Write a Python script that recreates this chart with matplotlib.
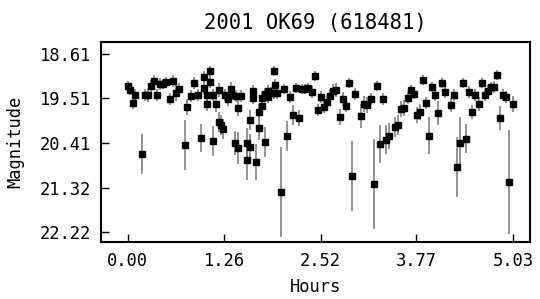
import numpy as np
import matplotlib
matplotlib.use('Agg')
import matplotlib.pyplot as plt

# Lightcurve of 2001 OK69
hours = [0.00, 0.03, 0.07, 0.10, 0.18, 0.22, 0.26, 0.30, 0.34, 0.38,
         0.42, 0.46, 0.50, 0.55, 0.59, 0.63, 0.67, 0.75, 0.77, 0.82,
         0.86, 0.92, 0.95, 0.99, 0.99, 1.03, 1.03, 1.07, 1.07, 1.11,
         1.11, 1.15, 1.19, 1.19, 1.22, 1.24, 1.27, 1.31, 1.35, 1.35,
         1.40, 1.41, 1.44, 1.44, 1.48, 1.56, 1.56, 1.60, 1.60, 1.63,
         1.63, 1.67, 1.71, 1.71, 1.75, 1.75, 1.79, 1.79, 1.83, 1.83,
         1.87, 1.91, 1.92, 1.91, 1.95, 2.00, 2.04, 2.08, 2.12, 2.16,
         2.20, 2.24, 2.27, 2.31, 2.35, 2.41, 2.44, 2.48, 2.52, 2.56,
         2.60, 2.64, 2.68, 2.72, 2.77, 2.81, 2.85, 2.89, 2.93, 2.97,
         3.05, 3.09, 3.12, 3.18, 3.22, 3.25, 3.29, 3.33, 3.37, 3.41,
         3.49, 3.53, 3.57, 3.61, 3.66, 3.70, 3.74, 3.78, 3.82, 3.86,
         3.90, 3.93, 3.97, 4.01, 4.05, 4.10, 4.14, 4.22, 4.26, 4.30,
         4.34, 4.38, 4.42, 4.46, 4.50, 4.54, 4.59, 4.63, 4.67, 4.71,
         4.75, 4.78, 4.82, 4.86, 4.90, 4.94, 4.98, 5.03]
mag = [19.26, 19.34, 19.60, 19.44, 20.64, 19.44, 19.44, 19.26, 19.16, 19.44,
       19.22, 19.22, 19.18, 19.52, 19.16, 19.40, 19.32, 20.46, 19.69, 19.46,
       19.20, 19.44, 20.31, 19.08, 19.30, 19.44, 19.62, 18.96, 19.18, 19.44,
       20.38, 19.62, 19.34, 19.99, 20.05, 20.13, 19.44, 19.52, 19.32, 19.44,
       20.42, 19.46, 19.71, 20.52, 19.46, 20.42, 20.76, 19.95, 20.50, 19.36,
       19.50, 20.80, 19.79, 20.11, 19.50, 19.66, 20.40, 19.42, 19.36, 19.48,
       19.40, 18.96, 19.24, 19.40, 19.40, 21.41, 19.32, 20.27, 19.48, 19.85,
       19.30, 19.91, 19.32, 19.32, 19.30, 19.38, 19.06, 19.75, 19.48, 19.69,
       19.58, 19.46, 19.36, 19.34, 19.89, 19.52, 19.66, 19.20, 21.08, 19.42,
       19.87, 19.62, 19.65, 19.52, 21.25, 19.26, 20.44, 19.52, 20.35, 20.27,
       20.09, 20.05, 19.73, 19.71, 19.50, 19.34, 19.42, 19.85, 19.79, 19.14,
       19.60, 20.27, 19.28, 19.44, 19.81, 19.20, 19.38, 19.65, 19.44, 20.90,
       20.42, 19.20, 20.33, 19.38, 19.79, 19.44, 19.62, 19.20, 19.44, 19.36,
       19.28, 19.28, 19.04, 19.91, 19.44, 19.48, 21.21, 19.62]
err = [0.10, 0.10, 0.12, 0.12, 0.40, 0.12, 0.14, 0.12, 0.12, 0.12,
       0.12, 0.10, 0.10, 0.12, 0.12, 0.16, 0.12, 0.51, 0.16, 0.12,
       0.12, 0.12, 0.28, 0.12, 0.12, 0.12, 0.14, 0.10, 0.12, 0.12,
       0.30, 0.16, 0.14, 0.20, 0.20, 0.20, 0.12, 0.14, 0.14, 0.12,
       0.24, 0.12, 0.16, 0.32, 0.12, 0.30, 0.41, 0.20, 0.26, 0.12,
       0.12, 0.37, 0.16, 0.24, 0.12, 0.14, 0.30, 0.12, 0.12, 0.12,
       0.12, 0.10, 0.12, 0.12, 0.12, 0.91, 0.10, 0.30, 0.12, 0.20,
       0.10, 0.16, 0.10, 0.10, 0.10, 0.12, 0.10, 0.12, 0.12, 0.12,
       0.14, 0.14, 0.14, 0.14, 0.16, 0.14, 0.14, 0.10, 0.71, 0.12,
       0.24, 0.16, 0.16, 0.12, 0.91, 0.10, 0.39, 0.12, 0.30, 0.26,
       0.20, 0.20, 0.16, 0.16, 0.12, 0.10, 0.10, 0.16, 0.16, 0.10,
       0.12, 0.37, 0.10, 0.12, 0.24, 0.10, 0.12, 0.14, 0.12, 0.61,
       0.53, 0.10, 0.30, 0.12, 0.14, 0.12, 0.14, 0.10, 0.12, 0.12,
       0.10, 0.12, 0.10, 0.24, 0.12, 0.12, 1.05, 0.16]

x_ticks = [0.00, 1.26, 2.52, 3.77, 5.03]
y_ticks = [18.61, 19.51, 20.41, 21.32, 22.22]

plt.rcParams['font.family'] = ['DejaVu Sans Mono']

fig = plt.figure(figsize=(5.4, 2.99), dpi=100)
ax = fig.add_axes([0.187, 0.191, 0.794, 0.669])

ax.errorbar(hours, mag, yerr=err, fmt='s', color='black', ecolor='#777777',
            elinewidth=1.1, capsize=0, markersize=5)

ax.set_xlim(-0.35, 5.25)
ax.set_ylim(22.42, 18.37)
ax.set_xticks(x_ticks)
ax.set_xticklabels(['%.2f' % t for t in x_ticks])
ax.set_yticks(y_ticks)
ax.set_yticklabels(['%.2f' % t for t in y_ticks])
ax.tick_params(direction='in', length=6, width=1, labelsize=12.3, pad=7)
for s in ax.spines.values():
    s.set_linewidth(1.5)

ax.set_title('2001 OK69 (618481)', fontsize=14.8, pad=9)
ax.set_xlabel('Hours', fontsize=12.3, labelpad=6)
ax.set_ylabel('Magnitude', fontsize=12.3, labelpad=11)

fig.savefig('out.png', dpi=100)
